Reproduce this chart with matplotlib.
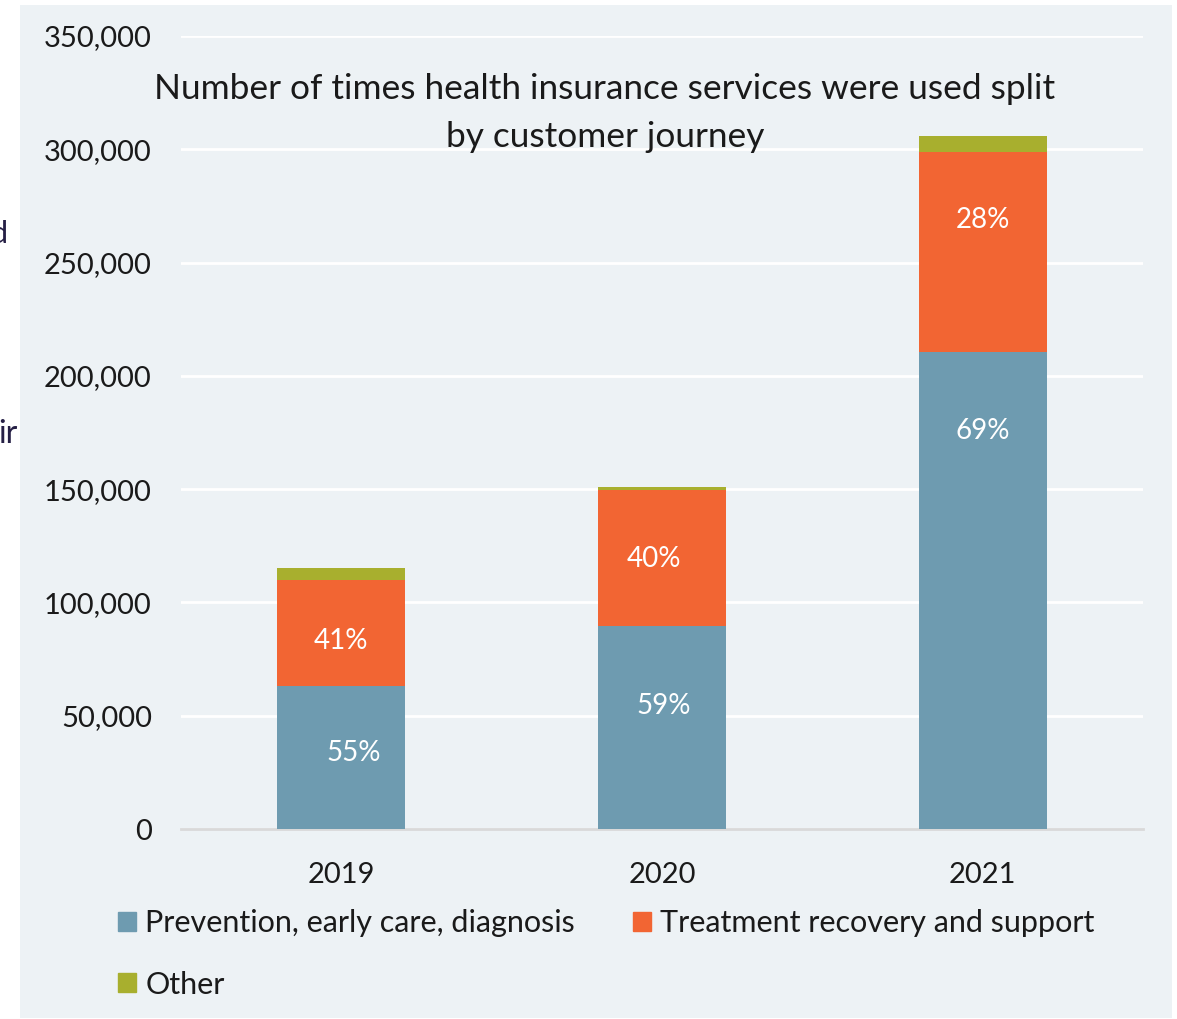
import matplotlib
matplotlib.use("Agg")
import matplotlib.pyplot as plt
from matplotlib.patches import Rectangle, Patch
from matplotlib.ticker import FuncFormatter

# Usage counts by customer journey stage
years = ["2019", "2020", "2021"]
prevention = [63000, 89500, 210500]
treatment = [47000, 60000, 88500]
other = [5000, 1500, 7000]

series_names = ["Prevention, early care, diagnosis", "Treatment recovery and support", "Other"]
prevention_labels = ["55%", "59%", "69%"]
treatment_labels = ["41%", "40%", "28%"]

y_ticks = [0, 50000, 100000, 150000, 200000, 250000, 300000, 350000]

C_BLUE = "#6E9BB0"
C_ORANGE = "#F26533"
C_OLIVE = "#A8AF2E"
C_PANEL = "#EDF2F5"
C_TEXT = "#1A1A1A"

plt.rcParams["font.family"] = ["Lato", "DejaVu Sans"]

W, H = 1177, 1019
fig = plt.figure(figsize=(W / 100, H / 100), dpi=100)
fig.patch.set_facecolor("white")

# light panel behind the chart
fig.add_artist(Rectangle((20 / W, 1 - 1018 / H), (1172 - 20) / W, (1018 - 5) / H,
                         transform=fig.transFigure, facecolor=C_PANEL,
                         edgecolor="none", zorder=0))

# fragments of neighbouring text at the left edge
fig.text(8 / W, 1 - 234 / H, "d", ha="right", va="center", fontsize=22, color="#251F45")
fig.text(18 / W, 1 - 434 / H, "ir", ha="right", va="center", fontsize=23, color="#251F45")

ax = fig.add_axes([181 / W, 190 / H, (1143 - 181) / W, (829 - 36) / H])
ax.set_facecolor("none")

x = list(range(len(years)))
width = 0.4
bottom2 = [a + b for a, b in zip(prevention, treatment)]
ax.bar(x, prevention, width, color=C_BLUE, zorder=3, label=series_names[0])
ax.bar(x, treatment, width, bottom=prevention, color=C_ORANGE, zorder=3, label=series_names[1])
ax.bar(x, other, width, bottom=bottom2, color=C_OLIVE, zorder=3, label=series_names[2])

# percentage labels inside the segments
blue_dx = [0.04, 0.006, 0.0]
blue_y = [33500, 54300, 175700]
orange_dx = [0.0, -0.025, 0.0]
orange_y = [83000, 119200, 268800]
for i in x:
    ax.text(i + blue_dx[i], blue_y[i], prevention_labels[i], ha="center", va="center",
            color="white", fontsize=20, zorder=4)
    ax.text(i + orange_dx[i], orange_y[i], treatment_labels[i], ha="center", va="center",
            color="white", fontsize=20, zorder=4)

ax.set_xlim(-0.5, 2.5)
ax.set_ylim(0, 350000)
ax.set_yticks(y_ticks)
ax.yaxis.set_major_formatter(FuncFormatter(lambda v, p: f"{int(v):,}"))
ax.set_xticks(x)
ax.set_xticklabels(years)
ax.tick_params(axis="both", length=0, labelsize=21, colors=C_TEXT)
ax.tick_params(axis="y", pad=21)
ax.tick_params(axis="x", pad=24)
ax.grid(axis="y", color="white", linewidth=2, zorder=1)
for s in ["top", "right", "left"]:
    ax.spines[s].set_visible(False)
ax.spines["bottom"].set_color("#D9D9D9")
ax.spines["bottom"].set_linewidth(2)
ax.spines["bottom"].set_zorder(2)

fig.text(605 / W, 1 - 113 / H,
         "Number of times health insurance services were used split\nby customer journey",
         ha="center", va="center", fontsize=25.4, color=C_TEXT, linespacing=1.6)

handles = [Patch(color=C_BLUE), Patch(color=C_OLIVE), Patch(color=C_ORANGE)]
labels = [series_names[0], series_names[2], series_names[1]]
fig.legend(handles, labels, ncol=2, loc="upper left",
           bbox_to_anchor=(118 / W, 1 - 909 / H), frameon=False,
           fontsize=22, handlelength=0.59, handleheight=0.59,
           handletextpad=0.3, columnspacing=1.9, labelspacing=1.1,
           borderpad=0, borderaxespad=0, labelcolor=C_TEXT)

fig.savefig("out.png", dpi=100)
